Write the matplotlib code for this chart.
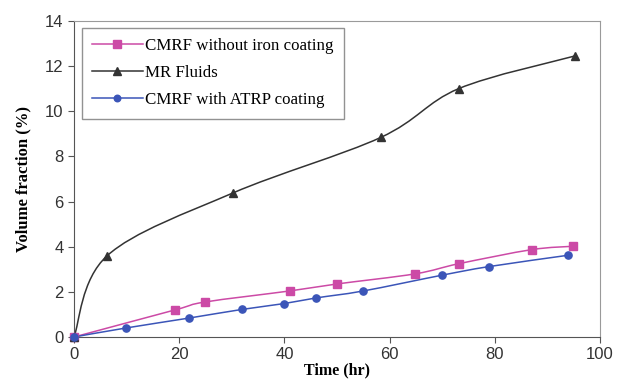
import numpy as np
import matplotlib
matplotlib.use("Agg")
import matplotlib.pyplot as plt
from matplotlib.path import Path
from matplotlib.patches import PathPatch

# data
t_iron = [0, 19.2, 24.9, 41, 50, 64.9, 73.2, 87, 94.9]
v_iron = [0, 1.2, 1.55, 2.04, 2.35, 2.8, 3.25, 3.87, 4.02]

t_mr = [0, 6.3, 30.2, 58.3, 73.1, 95.2]
v_mr = [0, 3.6, 6.38, 8.84, 11.0, 12.45]

t_atrp = [0, 9.9, 21.9, 31.9, 39.9, 46, 55, 70, 78.9, 93.9]
v_atrp = [0, 0.4, 0.84, 1.22, 1.48, 1.73, 2.04, 2.74, 3.12, 3.62]

pink = '#cc4aa6'
blue = '#3b55b8'
dark = '#333333'


def smooth_path(x, y):
    # excel-like smoothed line: cubic bezier segments through the points
    pts = np.column_stack([x, y]).astype(float)
    n = len(pts)
    verts = [pts[0]]
    codes = [Path.MOVETO]
    for i in range(n - 1):
        p0 = pts[i - 1] if i > 0 else pts[i]
        p1 = pts[i]
        p2 = pts[i + 1]
        p3 = pts[i + 2] if i + 2 < n else pts[i + 1]
        c1 = p1 + (p2 - p0) / 6.0
        c2 = p2 - (p3 - p1) / 6.0
        verts += [c1, c2, p2]
        codes += [Path.CURVE4] * 3
    return Path(verts, codes)


fig = plt.figure(figsize=(6.18, 3.92), dpi=100)
ax = fig.add_axes([74 / 618, 1 - 337 / 392, (600 - 74) / 618, (337 - 21) / 392])

series = [
    (t_iron, v_iron, pink, 's', 6, 'CMRF without iron coating'),
    (t_mr, v_mr, dark, '^', 6, 'MR Fluids'),
    (t_atrp, v_atrp, blue, 'o', 5.2, 'CMRF with ATRP coating'),
]
for tx, vy, col, mk, ms, lab in series:
    ax.add_patch(PathPatch(smooth_path(tx, vy), facecolor='none', edgecolor=col, lw=1.1, zorder=2))
    ax.plot(tx, vy, linestyle='none', marker=mk, color=col, markersize=ms, zorder=3, clip_on=False)
    # proxy for the legend
    ax.plot([], [], color=col, lw=1.1, marker=mk, markersize=ms - 0.5, label=lab)

ax.set_xlim(0, 100)
ax.set_ylim(0, 14)
ax.set_xticks(np.arange(0, 101, 20))
ax.set_yticks(np.arange(0, 15, 2))

for s in ['top', 'right']:
    ax.spines[s].set_color('#9a9a9a')
for s in ['left', 'bottom']:
    ax.spines[s].set_color('#555555')
ax.tick_params(direction='out', length=4, width=0.8, color='#555555',
               labelsize=12, labelcolor='#333333')
for lbl in ax.get_xticklabels() + ax.get_yticklabels():
    lbl.set_fontfamily('Liberation Sans')

ax.set_xlabel('Time (hr)', fontfamily='Liberation Serif', fontweight='bold', fontsize=11.5, labelpad=0)
ax.set_ylabel('Volume fraction (%)', fontfamily='Liberation Serif', fontweight='bold', fontsize=12, labelpad=10)

leg = ax.legend(loc='upper left', bbox_to_anchor=(0.008, 0.988), frameon=True, fancybox=False,
                prop={'family': 'Liberation Serif', 'size': 12.2}, handlelength=3.0,
                handletextpad=0.15, labelspacing=0.65, borderpad=0.6, borderaxespad=0.2)
leg.get_frame().set_edgecolor('#777777')
leg.get_frame().set_linewidth(1.0)

fig.savefig('out.png', dpi=100)
